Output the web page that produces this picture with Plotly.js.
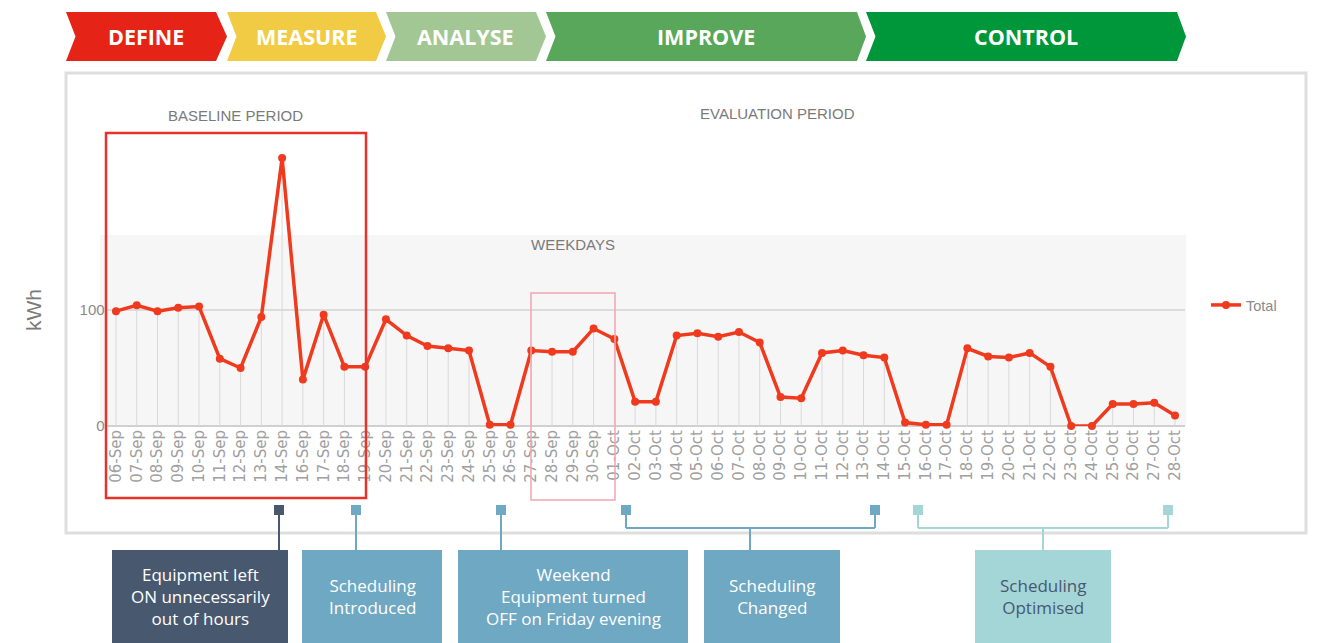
<!DOCTYPE html>
<html>
<head>
<meta charset="utf-8">
<script src="https://cdn.plot.ly/plotly-3.0.1.min.js"></script>
<style>html,body{margin:0;padding:0;background:#fff;}#chart{width:1319px;height:643px;}</style>
</head>
<body>
<div id="chart"></div>
<script>
// ---- data ----
const dates = ["06-Sep","07-Sep","08-Sep","09-Sep","10-Sep","11-Sep","12-Sep","13-Sep","14-Sep","16-Sep","17-Sep","18-Sep","19-Sep","20-Sep","21-Sep","22-Sep","23-Sep","24-Sep","25-Sep","26-Sep","27-Sep","28-Sep","29-Sep","30-Sep",
"01-Oct","02-Oct","03-Oct","04-Oct","05-Oct","06-Oct","07-Oct","08-Oct","09-Oct","10-Oct","11-Oct","12-Oct","13-Oct","14-Oct","15-Oct","16-Oct","17-Oct","18-Oct","19-Oct","20-Oct","21-Oct","22-Oct","23-Oct","24-Oct","25-Oct","26-Oct","27-Oct","28-Oct"];
const totalKWh = [99,104,99,102,103,58,50,94,231,40,96,51,51,92,78,69,67,65,1,1,65,64,64,84,
75,21,21,78,80,77,81,72,25,24,63,65,61,59,3,1,1,67,60,59,63,51,0,0,19,19,20,9];
const yTickVals = [0,100];
const yTickText = ["0","100"];
const phases = ["DEFINE","MEASURE","ANALYSE","IMPROVE","CONTROL"];
const phaseColors = ["#e52316","#f2cb44","#a2c794","#58a75a","#00963a"];
const notes = ["Equipment left<br>ON unnecessarily<br>out of hours","Scheduling<br>Introduced","Weekend<br>Equipment turned<br>OFF on Friday evening","Scheduling<br>Changed","Scheduling<br>Optimised"];

// ---- geometry helpers (pixel -> paper) ----
const W = 1319, H = 643;
const px = x => x / W;
const py = y => 1 - y / H;
const pt = (x, y) => px(x) + "," + py(y);

const xLeft = 105.6, xRight = 1185.4;   // category axis edges
const yZero = 426, yUnit = 1.16;        // px per kWh
const yMax = 240;
const yTop = yZero - yMax * yUnit;

const shapes = [];
const annotations = [];

// panel border
shapes.push({type:"rect", xref:"paper", yref:"paper", x0:px(66), x1:px(1306), y0:py(533), y1:py(73),
  line:{color:"#dedede", width:3}, fillcolor:"rgba(0,0,0,0)", layer:"below"});
// weekday band
shapes.push({type:"rect", xref:"paper", yref:"paper", x0:px(100), x1:px(1186), y0:py(yZero), y1:py(235),
  line:{width:0}, fillcolor:"#f6f6f6", layer:"below"});

// chevrons
const chev = [[66,216,227],[227,376,386],[386,536,546],[546,857,866],[866,1177,1186]];
const yT = 12, yB = 61, yM = 36.5;
chev.forEach((c, i) => {
  const [l, r, tip] = c;
  const path = "M" + pt(l, yT) + " L" + pt(r, yT) + " L" + pt(tip, yM) + " L" + pt(r, yB) +
               " L" + pt(l, yB) + " L" + pt(l + 9.5, yM) + " Z";
  shapes.push({type:"path", xref:"paper", yref:"paper", path:path, fillcolor:phaseColors[i], line:{width:0}});
  annotations.push({xref:"paper", yref:"paper", x:px((l + 9.5 + r) / 2), y:py(yM), text:"<b>" + phases[i] + "</b>",
    showarrow:false, xanchor:"center", yanchor:"middle",
    font:{family:"Open Sans, sans-serif", size:21.5, color:"#ffffff"}});
});

// period boxes
shapes.push({type:"rect", xref:"paper", yref:"paper", x0:px(106), x1:px(366), y0:py(498), y1:py(133),
  line:{color:"#e8322a", width:2.5}, fillcolor:"rgba(0,0,0,0)", layer:"above"});
shapes.push({type:"rect", xref:"paper", yref:"paper", x0:px(531), x1:px(615), y0:py(500), y1:py(293),
  line:{color:"#f1a7ae", width:1.5}, fillcolor:"rgba(0,0,0,0)", layer:"above"});

// labels in chart
const grayFont = {family:"Liberation Sans, Arial, sans-serif", size:15, color:"#7a7a7a"};
function label(x, y, text, font, angle) {
  annotations.push({xref:"paper", yref:"paper", x:px(x), y:py(y), text:text, showarrow:false,
    xanchor:"center", yanchor:"middle", textangle:angle || 0, font:font});
}
label(235, 115, "BASELINE PERIOD", grayFont);
label(777, 114, "EVALUATION PERIOD", grayFont);
label(573, 244, "WEEKDAYS", grayFont);
label(33, 310, "kWh", {family:"Liberation Sans, Arial, sans-serif", size:21, color:"#7a7a7a"}, -90);

// bottom callouts
const dark = "#48586f", blue = "#6fa8c3", teal = "#a4d6d7";
function sq(x, color) {
  shapes.push({type:"rect", xref:"paper", yref:"paper", x0:px(x - 5), x1:px(x + 5), y0:py(515), y1:py(505),
    fillcolor:color, line:{width:0}});
}
function seg(x0, y0, x1, y1, color) {
  shapes.push({type:"line", xref:"paper", yref:"paper", x0:px(x0), y0:py(y0), x1:px(x1), y1:py(y1),
    line:{color:color, width:2}});
}
function box(x0, x1, color) {
  shapes.push({type:"rect", xref:"paper", yref:"paper", x0:px(x0), x1:px(x1), y0:py(650), y1:py(550),
    fillcolor:color, line:{width:0}});
}
sq(279, dark); seg(279, 515, 279, 550, dark);
sq(356, blue); seg(356, 515, 356, 550, blue);
sq(501, blue); seg(501, 515, 501, 550, blue);
sq(626, blue); sq(875, blue);
seg(626, 515, 626, 528, blue); seg(875, 515, 875, 528, blue); seg(626, 528, 875, 528, blue); seg(750, 528, 750, 550, blue);
sq(918, teal); sq(1168, teal);
seg(918, 515, 918, 528, teal); seg(1168, 515, 1168, 528, teal); seg(918, 528, 1168, 528, teal); seg(1043, 528, 1043, 550, teal);

const boxes = [[112,288,dark,"#ffffff"],[302,442,blue,"#ffffff"],[458,688,blue,"#ffffff"],[704,840,blue,"#ffffff"],[975,1111,teal,dark]];
boxes.forEach((b, i) => {
  box(b[0], b[1], b[2]);
  annotations.push({xref:"paper", yref:"paper", x:px((b[0] + b[1]) / 2), y:py(596), text:notes[i], showarrow:false,
    xanchor:"center", yanchor:"middle", align:"center",
    font:{family:"Open Sans, sans-serif", size:17, color:b[3]}});
});

const trace = {
  x: dates, y: totalKWh, type:"scatter", mode:"lines+markers", name:"Total",
  line:{color:"#f03a1e", width:3.5},
  marker:{color:"#f03a1e", size:8},
  error_y:{type:"data", symmetric:false, array:totalKWh.map(() => 0), arrayminus:totalKWh,
    color:"#d9d9d9", thickness:1, width:0},
  cliponaxis:false, hoverinfo:"skip"
};

const layout = {
  width:W, height:H, margin:{l:0, r:0, t:0, b:0},
  paper_bgcolor:"#ffffff", plot_bgcolor:"rgba(0,0,0,0)",
  showlegend:true,
  legend:{x:px(1206), y:py(305), xanchor:"left", yanchor:"middle", bgcolor:"rgba(0,0,0,0)",
    font:{family:"Liberation Sans, Arial, sans-serif", size:14.5, color:"#8a8a8a"}},
  xaxis:{type:"category", domain:[px(xLeft), px(xRight)], range:[-0.5, dates.length - 0.5],
    tickangle:-90, tickfont:{family:"DejaVu Sans, sans-serif", size:15, color:"#a0a0a0"},
    showgrid:false, zeroline:false, showline:false, ticks:"", fixedrange:true},
  yaxis:{domain:[py(yZero), py(yTop)], range:[0, yMax], tickvals:yTickVals, ticktext:yTickText,
    tickfont:{family:"Liberation Sans, Arial, sans-serif", size:15, color:"#8a8a8a"},
    showgrid:true, gridcolor:"#dcdcdc", gridwidth:1.5, zeroline:true, zerolinecolor:"#d0d0d0", zerolinewidth:1.5,
    showline:false, ticks:"", fixedrange:true},
  shapes:shapes, annotations:annotations
};

Plotly.newPlot("chart", [trace], layout, {displayModeBar:false, staticPlot:true});
</script>
</body>
</html>
